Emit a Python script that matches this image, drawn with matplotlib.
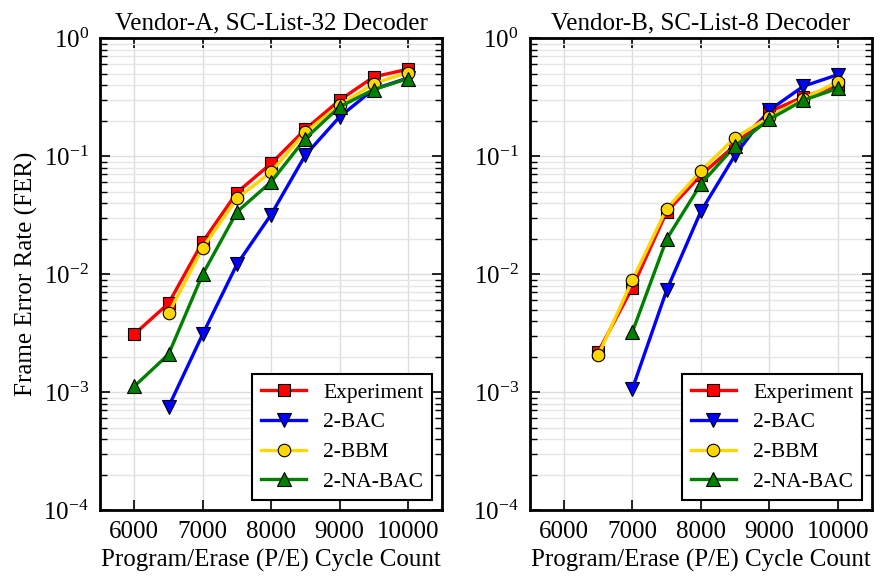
import matplotlib
matplotlib.use("Agg")
import matplotlib.pyplot as plt
from matplotlib.ticker import LogLocator, NullFormatter

plt.rcParams['font.family'] = ['Liberation Serif', 'DejaVu Serif']
plt.rcParams['mathtext.fontset'] = 'custom'
plt.rcParams['mathtext.rm'] = 'Liberation Serif'

pe = [6000, 6500, 7000, 7500, 8000, 8500, 9000, 9500, 10000]

# Vendor-A, SC-List-32
a_exp = [0.0031, 0.00565, 0.0188, 0.0492, 0.0867, 0.169, 0.298, 0.47, 0.546]
a_bac = [None, 0.00075, 0.0031, 0.0121, 0.032, 0.102, 0.215, 0.37, 0.46]
a_bbm = [None, 0.00464, 0.0167, 0.0438, 0.0736, 0.16, 0.27, 0.413, 0.512]
a_nabac = [0.00112, 0.00209, 0.0100, 0.0337, 0.0606, 0.141, 0.262, 0.367, 0.455]

# Vendor-B, SC-List-8
b_exp = [None, 0.0022, 0.0077, 0.0337, 0.069, 0.124, 0.238, 0.318, 0.40]
b_bac = [None, None, 0.00107, 0.0073, 0.034, 0.102, 0.245, 0.392, 0.49]
b_bbm = [None, 0.00206, 0.0089, 0.036, 0.075, 0.144, 0.213, 0.308, 0.426]
b_nabac = [None, None, 0.00324, 0.0198, 0.058, 0.122, 0.205, 0.298, 0.375]

series_names = ['Experiment', '2-BAC', '2-BBM', '2-NA-BAC']
colors = ['#ff0000', '#0000ff', '#ffd700', '#008000']
markers = ['s', 'v', 'o', '^']
msizes = [9, 10.5, 9, 10.5]
titles = ['Vendor-A, SC-List-32 Decoder', 'Vendor-B, SC-List-8 Decoder']
xticks = [6000, 7000, 8000, 9000, 10000]

fig = plt.figure(figsize=(8.86, 5.79), dpi=100)
ax1 = fig.add_axes([0.113, 0.119, 0.386, 0.815])
ax2 = fig.add_axes([0.598, 0.119, 0.386, 0.815])

def draw(ax, data, title, ylabel):
    for vals, name, c, m, ms in zip(data, series_names, colors, markers, msizes):
        xs = [x for x, v in zip(pe, vals) if v is not None]
        ys = [v for v in vals if v is not None]
        ax.plot(xs, ys, color=c, lw=2.4, marker=m, markersize=ms,
                markerfacecolor=c, markeredgecolor='black', markeredgewidth=0.8,
                label=name)
    ax.set_yscale('log')
    ax.set_ylim(1e-4, 1)
    ax.set_xlim(5500, 10500)
    ax.set_xticks(xticks)
    ax.set_xticklabels([str(x) for x in xticks])
    ax.yaxis.set_major_locator(LogLocator(base=10, numticks=10))
    ax.yaxis.set_minor_locator(LogLocator(base=10, subs=range(2, 10), numticks=20))
    ax.yaxis.set_minor_formatter(NullFormatter())
    ax.grid(True, which='major', color='#dddddd', lw=1.0)
    ax.grid(True, which='minor', axis='y', color='#e6e6e6', lw=1.0)
    ax.set_axisbelow(True)
    ax.tick_params(which='both', direction='in', top=True, right=True,
                   labelsize=18, pad=8)
    ax.tick_params(which='major', length=7, width=1.2)
    ax.tick_params(which='minor', length=5, width=1.0)
    for s in ax.spines.values():
        s.set_linewidth(2.0)
    ax.set_title(title, fontsize=18, pad=6)
    ax.set_xlabel('Program/Erase (P/E) Cycle Count', fontsize=18, labelpad=4)
    if ylabel:
        ax.set_ylabel('Frame Error Rate (FER)', fontsize=18, labelpad=4)
    leg = ax.legend(loc='lower right', fontsize=15.5, fancybox=False,
                    edgecolor='black', framealpha=1, handlelength=2.1,
                    labelspacing=0.45, borderaxespad=0.45)
    leg.get_frame().set_linewidth(1.5)

draw(ax1, [a_exp, a_bac, a_bbm, a_nabac], titles[0], True)
draw(ax2, [b_exp, b_bac, b_bbm, b_nabac], titles[1], False)

fig.savefig('out.png', dpi=100)
